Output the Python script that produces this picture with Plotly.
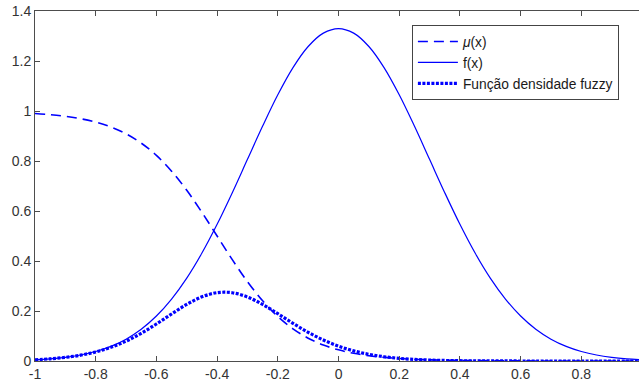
import plotly.graph_objects as go

x_vals = [-1.00, -0.95, -0.90, -0.85, -0.80, -0.75, -0.70, -0.65, -0.60, -0.55,
          -0.50, -0.45, -0.40, -0.35, -0.30, -0.25, -0.20, -0.15, -0.10, -0.05,
          0.00, 0.05, 0.10, 0.15, 0.20, 0.25, 0.30, 0.35, 0.40, 0.45,
          0.50, 0.55, 0.60, 0.65, 0.70, 0.75, 0.80, 0.85, 0.90, 0.95, 1.00]

mu_vals = [0.9900, 0.9854, 0.9788, 0.9691, 0.9554, 0.9359, 0.9087, 0.8716, 0.8223, 0.7593,
           0.6826, 0.5946, 0.5000, 0.4054, 0.3174, 0.2407, 0.1777, 0.1284, 0.0913, 0.0641,
           0.0446, 0.0309, 0.0212, 0.0146, 0.0100, 0.0068, 0.0047, 0.0032, 0.0022, 0.0015,
           0.0010, 0.0007, 0.0005, 0.0003, 0.0002, 0.0001, 0.0001, 0.0001, 0.0000, 0.0000, 0.0000]

f_vals = [0.00514, 0.00884, 0.01477, 0.02402, 0.03799, 0.05843, 0.08741, 0.12715, 0.17997, 0.24771,
          0.33158, 0.43172, 0.54669, 0.67333, 0.80657, 0.93969, 1.06482, 1.17355, 1.25794, 1.31146,
          1.32980, 1.31146, 1.25794, 1.17355, 1.06482, 0.93969, 0.80657, 0.67333, 0.54669, 0.43172,
          0.33158, 0.24771, 0.17997, 0.12715, 0.08741, 0.05843, 0.03799, 0.02402, 0.01477, 0.00884, 0.00514]

fuzzy_vals = [0.00509, 0.00871, 0.01446, 0.02328, 0.03630, 0.05468, 0.07943, 0.11082, 0.14799, 0.18809,
              0.22634, 0.25670, 0.27335, 0.27297, 0.25601, 0.22618, 0.18922, 0.15068, 0.11485, 0.08406,
              0.05931, 0.04052, 0.02667, 0.01713, 0.01065, 0.00639, 0.00379, 0.00215, 0.00120, 0.00065,
              0.00033, 0.00017, 0.00009, 0.00004, 0.00002, 0.00001, 0.00000, 0.00000, 0.00000, 0.00000, 0.00000]

x_ticks = [-1, -0.8, -0.6, -0.4, -0.2, 0, 0.2, 0.4, 0.6, 0.8, 1]
x_tick_text = ["-1", "-0.8", "-0.6", "-0.4", "-0.2", "0", "0.2", "0.4", "0.6", "0.8", "1"]
y_ticks = [0, 0.2, 0.4, 0.6, 0.8, 1, 1.2, 1.4]
y_tick_text = ["0", "0.2", "0.4", "0.6", "0.8", "1", "1.2", "1.4"]

names = ["<i>μ</i>(x)", "f(x)", "Função densidade fuzzy"]

BLUE = "#0000FF"
AX = "#4d4d4d"
TXT = "#333333"
FONT = "Liberation Sans, Arial, sans-serif"

fig = go.Figure()
fig.add_trace(go.Scatter(x=x_vals, y=mu_vals, mode="lines", name=names[0],
                         line=dict(color=BLUE, width=1.6, dash="10px,6px", shape="spline")))
fig.add_trace(go.Scatter(x=x_vals, y=f_vals, mode="lines", name=names[1],
                         line=dict(color=BLUE, width=1.2, shape="spline")))
fig.add_trace(go.Scatter(x=x_vals, y=fuzzy_vals, mode="lines", name=names[2],
                         line=dict(color=BLUE, width=3.2, dash="3px,1.5px", shape="spline")))

fig.update_layout(
    width=639, height=384,
    margin=dict(l=35, r=0, t=11, b=23),
    paper_bgcolor="white", plot_bgcolor="white",
    font=dict(family=FONT, size=13, color=TXT),
    showlegend=True,
    legend=dict(x=0.624, y=0.96, xanchor="left", yanchor="top",
                bgcolor="white", bordercolor="#444444", borderwidth=1,
                font=dict(family=FONT, size=13.8, color="#1a1a1a"),
                tracegroupgap=0, itemwidth=40),
    xaxis=dict(range=[-1, 0.99], tickvals=x_ticks, ticktext=x_tick_text,
               ticks="inside", ticklen=5, tickcolor=AX, showline=True, linecolor=AX,
               linewidth=1, mirror="ticks", showgrid=False, zeroline=False,
               tickfont=dict(size=14, color=TXT)),
    yaxis=dict(range=[0, 1.4], tickvals=y_ticks, ticktext=y_tick_text,
               ticks="inside", ticklen=5, tickcolor=AX, showline=True, linecolor=AX,
               linewidth=1, showgrid=False, zeroline=False,
               tickfont=dict(size=14, color=TXT)),
    yaxis2=dict(range=[0, 1.4], tickvals=y_ticks, overlaying="y", side="right",
                ticks="inside", ticklen=5, tickcolor=AX, showline=False,
                showticklabels=False, showgrid=False, zeroline=False),
)

fig.write_html("out.html", config={"displayModeBar": False},
               post_script="document.body.style.margin='0';document.body.style.padding='0';")
